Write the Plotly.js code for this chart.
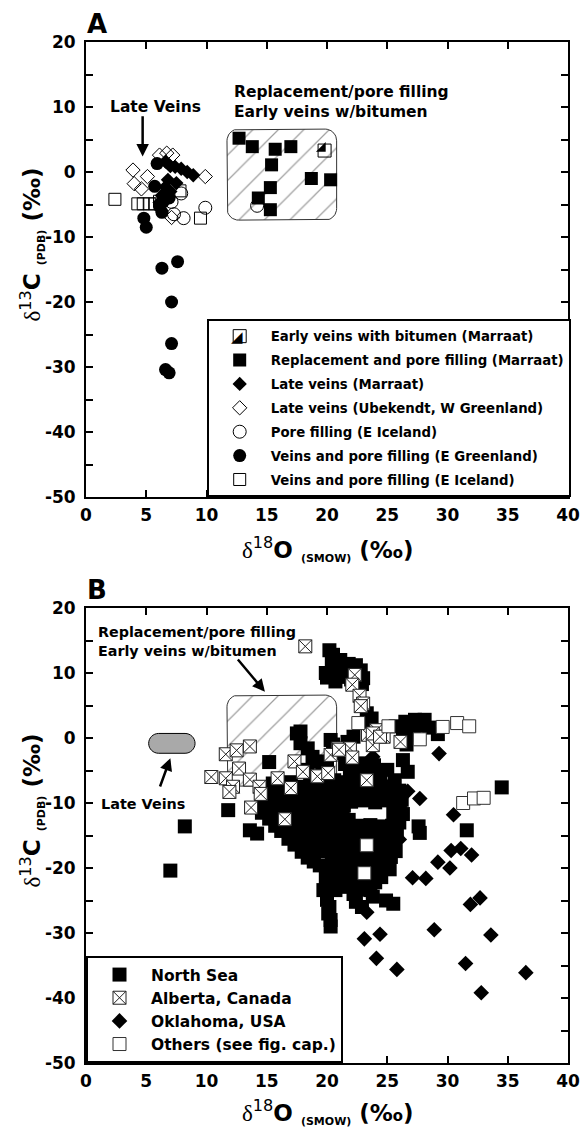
<!DOCTYPE html>
<html>
<head>
<meta charset="utf-8">
<script src="https://cdn.plot.ly/plotly-3.0.1.min.js"></script>
<style>
  html, body { margin: 0; padding: 0; background: #fff; }
  #chart { width: 581px; height: 1128px; }
</style>
</head>
<body>
<div id="chart"></div>
<script>
// ---------- Panel A: Marraat and comparison localities ----------
const earlyVeinsX = [19.8];
const earlyVeinsY = [3.3];

const replacementX = [12.7, 13.8, 15.7, 17.0, 15.4, 18.7, 20.3, 15.3, 14.3, 15.3];
const replacementY = [5.2, 3.9, 3.5, 3.9, 1.1, -1.0, -1.2, -2.4, -4.0, -5.8];

const lateMarraatX = [6.6, 7.0, 7.4, 7.9, 8.4, 8.9, 6.8, 7.5, 7.0, 6.6, 6.3, 6.1];
const lateMarraatY = [1.6, 0.9, 0.8, 0.5, 0.0, -0.5, -1.2, -1.7, -3.0, -2.3, -3.6, -4.7];

const lateUbekendtX = [3.9, 4.0, 5.1, 4.6, 6.1, 6.7, 7.2, 9.9, 7.1];
const lateUbekendtY = [0.3, -1.8, -0.7, -2.6, 2.6, 2.9, 2.6, -0.7, -7.0];

const poreIcelandX = [7.3, 8.1, 9.9, 7.9, 7.1, 14.2];
const poreIcelandY = [-6.5, -7.1, -5.5, -3.3, -4.6, -5.2];

const veinsGreenlandX = [5.9, 5.7, 4.8, 5.0, 6.3, 6.4, 6.7, 6.1, 6.9, 6.3, 7.6, 7.1, 7.1, 6.6, 6.9];
const veinsGreenlandY = [1.3, -2.2, -7.1, -8.5, -6.2, -4.6, -3.0, -5.3, -4.0, -14.8, -13.8, -20.0, -26.4, -30.4, -30.9];

const veinsIcelandX = [2.4, 4.3, 4.75, 5.25, 5.7, 6.1, 9.5, 7.8];
const veinsIcelandY = [-4.2, -4.9, -4.9, -4.9, -4.9, -4.5, -7.1, -2.9];

// ---------- Panel B: literature data ----------
const northSeaX = [
  7.0, 8.2, 11.8, 13.6, 14.2, 15.2,
  20.2, 20.5, 20.4, 21.1, 21.1, 19.9, 20.0, 20.7, 21.1, 22.4, 22.8, 23.0, 22.9, 23.3, 23.7, 23.4,
  20.8, 21.5, 22.0, 21.8,
  26.5, 27.3, 28.1, 26.3, 27.2, 28.5, 26.6, 29.2, 22.2, 21.7, 25.7, 26.9, 27.8,
  17.8, 17.5, 17.8, 18.4, 18.8, 19.3, 18.4, 20.3, 20.5, 20.9, 22.4, 23.1, 23.9, 25.0, 26.3, 26.7, 25.6, 24.8, 26.2, 26.05,
  19.6, 20.0, 21.5, 21.9, 23.0, 24.0,
  15.5, 17.0, 18.6, 19.6, 20.6, 21.5, 22.4, 24.4,
  14.8, 15.8, 16.8, 17.8, 18.8, 19.8, 20.8, 21.8, 22.8, 23.8, 24.8, 25.6,
  15.3, 16.2, 17.4, 18.3, 19.2, 20.3, 21.2, 22.2, 23.1, 24.0, 25.0, 26.0,
  14.9, 15.9, 16.9, 17.9, 18.9, 19.9, 20.9, 21.6, 25.8,
  22.0, 23.0, 24.0, 25.0,
  14.6, 15.6, 16.6, 17.6, 18.6, 19.5, 20.5, 21.4, 25.7,
  14.6, 15.5, 16.5, 17.5, 18.4, 19.4, 20.4, 21.3, 25.5, 26.3,
  15.2, 16.2, 17.2, 18.2, 19.1, 20.0, 21.0, 21.8, 25.6, 26.0,
  15.7, 16.7, 17.7, 18.7, 19.6, 20.6, 21.6, 22.6, 23.6, 24.6, 25.4,
  16.2, 17.3, 18.2, 19.2, 20.2, 21.2, 22.2, 23.2, 24.2, 25.2, 25.8,
  16.8, 17.8, 18.8, 19.8, 20.7, 21.7, 22.7, 23.8, 24.8, 25.6,
  17.3, 18.3, 19.3, 20.2, 21.1, 22.1, 24.2, 25.2,
  17.9, 18.9, 19.9, 20.9, 21.9, 22.9, 23.9, 24.9, 25.7,
  18.4, 18.9, 20.5, 21.4, 22.4, 23.4, 24.4, 25.3,
  19.4, 20.4, 21.3, 23.0, 23.9, 24.8,
  20.1, 20.9, 21.8, 22.5, 24.3, 25.2,
  19.9, 20.8, 21.7, 22.7, 23.6, 24.5,
  20.4, 21.5, 22.3, 23.1, 24.0,
  22.8, 23.6,
  19.7, 20.7, 20.0, 20.2, 20.1, 20.3, 20.3, 22.4, 22.9, 23.8, 24.9, 25.5, 22.2,
  27.6, 27.7, 31.6, 34.5
];
const northSeaY = [
  -20.4, -13.6, -11.1, -14.2, -14.7, -3.7,
  13.5, 12.8, 11.8, 12.0, 11.0, 10.0, 9.3, 8.7, 9.4, 11.2, 10.4, 9.2, 8.3, 3.8, 3.0, 2.2,
  10.5, 10.2, 9.0, 11.4,
  2.5, 2.8, 2.8, 0.7, 0.5, 1.6, -1.0, 0.6, 0.2, -0.6, 1.8, 1.6, 1.9,
  1.0, 0.7, -0.8, -1.6, -2.9, -3.6, -4.9, -0.3, -1.0, -2.3, -4.4, -3.9, -4.2, -4.9, -3.4, -5.2, -6.5, -7.5, -9.5, -11.1,
  -5.6, -4.5, -4.0, -5.3, -5.2, -5.5,
  -7.0, -6.8, -6.6, -6.8, -6.5, -6.8, -6.4, -6.2,
  -7.6, -7.5, -7.7, -7.5, -7.6, -7.7, -7.5, -7.6, -7.7, -7.5, -7.6, -7.4,
  -8.6, -8.3, -8.8, -8.4, -8.7, -8.3, -8.6, -8.4, -8.6, -8.2, -8.7, -8.1,
  -9.5, -9.6, -9.4, -9.6, -9.5, -9.4, -9.6, -9.5, -9.4,
  -9.8, -9.6, -9.9, -9.6,
  -10.6, -10.3, -10.7, -10.4, -10.6, -10.3, -10.7, -10.4, -10.6,
  -11.5, -11.6, -11.4, -11.6, -11.5, -11.4, -11.6, -11.5, -11.5, -11.7,
  -12.4, -12.7, -12.3, -12.6, -12.4, -12.7, -12.4, -12.6, -12.5, -13.0,
  -13.5, -13.6, -13.4, -13.6, -13.5, -13.4, -13.6, -13.5, -13.4, -13.6, -13.5,
  -14.3, -14.6, -14.4, -14.7, -14.3, -14.6, -14.4, -14.7, -14.3, -14.6, -14.2,
  -15.5, -15.6, -15.4, -15.6, -15.5, -15.4, -15.6, -15.5, -15.4, -15.6,
  -16.4, -16.7, -16.4, -16.6, -16.3, -16.7, -16.4, -16.7,
  -17.5, -17.6, -17.4, -17.6, -17.5, -17.4, -17.6, -17.5, -17.4,
  -18.4, -19.0, -18.6, -18.3, -18.7, -18.4, -18.7, -18.3,
  -19.6, -19.5, -19.7, -19.6, -19.5, -19.7,
  -20.6, -20.3, -20.7, -20.4, -20.6, -20.2,
  -21.5, -21.6, -21.4, -21.6, -21.5, -21.4,
  -22.4, -22.9, -22.3, -22.6, -22.2,
  -23.3, -23.4,
  -23.4, -23.4, -24.9, -26.0, -27.0, -28.0, -29.0, -25.2, -26.0, -24.4, -25.0, -25.5, -24.0,
  -13.6, -14.6, -14.2, -7.6
];

const albertaX = [18.2, 22.3, 22.1, 22.7, 23.0, 22.8, 23.4, 24.1, 24.7, 23.8, 26.1, 20.9, 21.9, 20.3, 22.1,
  10.4, 11.6, 12.5, 13.6, 11.6, 12.2, 11.9, 12.7, 13.6, 14.4, 14.5, 13.7, 15.9, 17.0, 17.3, 18.0, 19.2,
  20.1, 23.3, 16.5, 23.8, 24.4, 21.0];
const albertaY = [14.1, 9.7, 8.2, 6.5, 5.3, 4.9, 0.5, 1.2, 0.2, -1.1, -0.6, -1.6, -1.6, -2.6, -3.0,
  -6.0, -2.5, -1.9, -1.3, -6.2, -7.5, -8.3, -4.7, -6.4, -7.5, -8.6, -10.7, -6.2, -7.7, -3.6, -5.2, -5.9,
  -5.4, -6.5, -12.5, 0.7, 0.2, -1.8];

const oklahomaX = [23.8, 29.3, 26.7, 27.7, 30.5, 25.6, 26.0, 30.3, 31.1, 32.0, 29.2, 30.2, 27.1, 28.2,
  31.9, 32.7, 23.1, 24.4, 28.9, 33.6, 24.1, 25.8, 31.5, 36.5, 32.8, 23.3];
const oklahomaY = [-2.9, -2.4, -8.2, -9.3, -11.8, -13.5, -15.6, -17.3, -17.0, -18.0, -19.1, -20.0, -21.5, -21.6,
  -25.6, -24.6, -30.9, -30.2, -29.5, -30.3, -33.9, -35.6, -34.7, -36.1, -39.2, -26.8];

const othersX = [22.6, 25.1, 27.7, 29.6, 30.8, 31.8, 31.3, 32.2, 33.0, 23.3, 23.1];
const othersY = [2.3, 1.8, -0.2, 1.7, 2.3, 1.8, -10.0, -9.3, -9.2, -16.5, -20.8];

// Outlined fields: replacement/early-vein field (both panels) and late-vein field (panel B)
const fieldX = [11.7, 20.8];
const fieldY = [-7.4, 6.6];
const lateFieldX = [5.2, 9.05];
const lateFieldY = [-2.35, 0.7];

// Axis ticks
const xTicks = [0, 5, 10, 15, 20, 25, 30, 35, 40];
const xTickText = ['0', '5', '10', '15', '20', '25', '30', '35', '40'];
const yTicks = [-50, -40, -30, -20, -10, 0, 10, 20];
const yTickText = ['-50', '-40', '-30', '-20', '-10', '0', '10', '20'];
const yMinor = [-45, -35, -25, -15, -5, 5, 15];

const F = 'DejaVu Sans, Liberation Sans, Arial, sans-serif';
const SERIF = 'Liberation Serif';

// rounded rectangle outline as a closed polyline
function roundedRect(xr, yr, rx, ry) {
  const [x0, x1] = xr, [y0, y1] = yr;
  const xs = [], ys = [];
  const corners = [
    [x1 - rx, y1 - ry, 0], [x0 + rx, y1 - ry, 90],
    [x0 + rx, y0 + ry, 180], [x1 - rx, y0 + ry, 270]
  ];
  corners.forEach(([cx, cy, a0]) => {
    for (let a = a0; a <= a0 + 90; a += 10) {
      const t = a * Math.PI / 180;
      xs.push(cx + rx * Math.cos(t));
      ys.push(cy + ry * Math.sin(t));
    }
  });
  xs.push(xs[0]); ys.push(ys[0]);
  return { xs, ys };
}

// pill outline path (data coordinates)
function pillPath(xr, yr, rx) {
  const [x0, x1] = xr, [y0, y1] = yr;
  const ym = (y0 + y1) / 2, ry = (y1 - y0) / 2, k = 0.5523;
  return `M ${x0 + rx},${y1} L ${x1 - rx},${y1} ` +
    `C ${x1 - rx + k * rx},${y1} ${x1},${ym + k * ry} ${x1},${ym} ` +
    `C ${x1},${ym - k * ry} ${x1 - rx + k * rx},${y0} ${x1 - rx},${y0} ` +
    `L ${x0 + rx},${y0} ` +
    `C ${x0 + rx - k * rx},${y0} ${x0},${ym - k * ry} ${x0},${ym} ` +
    `C ${x0},${ym + k * ry} ${x0 + rx - k * rx},${y1} ${x0 + rx},${y1} Z`;
}

const field = roundedRect(fieldX, fieldY, 0.95, 1.8);

function fieldTrace(xa, ya) {
  return {
    x: field.xs, y: field.ys, xaxis: xa, yaxis: ya,
    mode: 'lines', fill: 'toself',
    fillpattern: { shape: '/', fgcolor: '#a0a0a0', bgcolor: 'rgba(255,255,255,0)', size: 18, solidity: 0.07 },
    line: { color: '#333', width: 1 },
    hoverinfo: 'skip', showlegend: false
  };
}

const mk = (symbol, size, color, lineColor, lw) =>
  ({ symbol, size, color, line: { color: lineColor, width: lw } });

// half-filled marker: black lower-right triangle inside an open square
const SQ = 13, TRI = SQ / 1.2;
const triShiftPx = 0.8 * TRI - SQ / 2;

const traces = [
  fieldTrace('x', 'y'),
  { x: veinsIcelandX, y: veinsIcelandY, name: 'Veins and pore filling (E Iceland)', legendrank: 7, legendgroup: 'g7',
    mode: 'markers', marker: mk('square-open', 12, 'black', 'black', 1), xaxis: 'x', yaxis: 'y' },
  { x: poreIcelandX, y: poreIcelandY, name: 'Pore filling (E Iceland)', legendrank: 5, legendgroup: 'g5',
    mode: 'markers', marker: mk('circle-open', 13, 'black', 'black', 1), xaxis: 'x', yaxis: 'y' },
  { x: lateUbekendtX, y: lateUbekendtY, name: 'Late veins (Ubekendt, W Greenland)', legendrank: 4, legendgroup: 'g4',
    mode: 'markers', marker: mk('diamond-open', 11, 'black', 'black', 1), xaxis: 'x', yaxis: 'y' },
  { x: veinsGreenlandX, y: veinsGreenlandY, name: 'Veins and pore filling (E Greenland)', legendrank: 6, legendgroup: 'g6',
    mode: 'markers', marker: mk('circle', 13, 'black', 'black', 0), xaxis: 'x', yaxis: 'y' },
  { x: lateMarraatX, y: lateMarraatY, name: 'Late veins (Marraat)', legendrank: 3, legendgroup: 'g3',
    mode: 'markers', marker: mk('diamond', 11, 'black', 'black', 0), xaxis: 'x', yaxis: 'y' },
  { x: replacementX, y: replacementY, name: 'Replacement and pore filling (Marraat)', legendrank: 2, legendgroup: 'g2',
    mode: 'markers', marker: mk('square', SQ, 'black', 'black', 0), xaxis: 'x', yaxis: 'y' },
  { x: earlyVeinsX, y: earlyVeinsY, name: 'Early veins with bitumen (Marraat)', legendrank: 1, legendgroup: 'g1',
    mode: 'markers', marker: mk('square-open', SQ, 'black', 'black', 1), xaxis: 'x', yaxis: 'y' },
  { x: earlyVeinsX.map(v => v - triShiftPx / 12.05), y: earlyVeinsY.map(v => v + triShiftPx / 6.5),
    mode: 'markers', marker: mk('triangle-se', TRI, 'black', 'black', 0), xaxis: 'x', yaxis: 'y',
    showlegend: false, hoverinfo: 'skip' },

  fieldTrace('x2', 'y2'),
  { x: northSeaX, y: northSeaY, name: 'North Sea', legendrank: 1, legend: 'legend2',
    mode: 'markers', marker: mk('square', 14, 'black', 'black', 0), xaxis: 'x2', yaxis: 'y2' },
  { x: oklahomaX, y: oklahomaY, name: 'Oklahoma, USA', legendrank: 3, legend: 'legend2',
    mode: 'markers', marker: mk('diamond', 12, 'black', 'black', 0), xaxis: 'x2', yaxis: 'y2' },
  { x: albertaX, y: albertaY, name: 'Alberta, Canada', legendrank: 2, legend: 'legend2',
    mode: 'markers', marker: mk('square-x', 13, 'white', '#222', 1), xaxis: 'x2', yaxis: 'y2' },
  { x: othersX, y: othersY, name: 'Others (see fig. cap.)', legendrank: 4, legend: 'legend2',
    mode: 'markers', marker: mk('square', 13, 'white', '#333', 1), xaxis: 'x2', yaxis: 'y2' }
];

const tickFont = { family: F, size: 17, weight: 'bold', color: 'black' };
function xAxis(anchor) {
  return {
    anchor, range: [0, 40], tickmode: 'array', tickvals: xTicks, ticktext: xTickText,
    showline: true, linewidth: 2, linecolor: 'black', mirror: 'ticks',
    ticks: 'inside', ticklen: 7, tickwidth: 2, tickcolor: 'black',
    showgrid: false, zeroline: false, tickfont: tickFont, ticklabelstandoff: 2, fixedrange: true
  };
}
function yAxis(anchor, domain) {
  return {
    anchor, domain, range: [-50, 20], tickmode: 'array', tickvals: yTicks, ticktext: yTickText,
    minor: { tickmode: 'array', tickvals: yMinor, ticks: 'inside', ticklen: 7, tickwidth: 2, tickcolor: 'black', showgrid: false },
    showline: true, linewidth: 2, linecolor: 'black', mirror: 'ticks',
    ticks: 'inside', ticklen: 7, tickwidth: 2, tickcolor: 'black',
    showgrid: false, zeroline: false, tickfont: tickFont, ticklabelstandoff: 5, fixedrange: true
  };
}

const xTitleText = `<span style="font-family:${SERIF};font-weight:normal">δ</span><sup><span style="font-weight:normal">18</span></sup>O <sub><span style="font-size:11px">(SMOW)</span></sub> (‰)`;
const yTitleText = `<span style="font-family:${SERIF};font-weight:normal">δ</span><sup><span style="font-weight:normal">13</span></sup>C <sub><span style="font-size:11px">(PDB)</span></sub> (‰)`;

const bold = (size) => ({ family: F, size, weight: 'bold', color: 'black' });

function panelNotes(xa, ya, letter, titleShift) {
  const xd = xa + ' domain', yd = ya + ' domain';
  return [
    { xref: xd, yref: yd, x: 0, y: 1, xanchor: 'left', yanchor: 'bottom', xshift: -1, yshift: 1,
      text: letter, showarrow: false, font: bold(26) },
    { xref: xd, yref: yd, x: 0.5, y: 0, xanchor: 'center', yanchor: 'middle', yshift: titleShift,
      text: xTitleText, showarrow: false, font: bold(23) },
    { xref: xd, yref: yd, x: 0, y: 0.555, xanchor: 'center', yanchor: 'middle', xshift: -54,
      text: yTitleText, textangle: -90, showarrow: false, font: bold(23) }
  ];
}

// legend glyph for the half-filled symbol (first entry of the upper legend)
const legendGlyph = {
  xref: 'paper', yref: 'paper', x: (236.5 - 86) / 482, y: (1063 - 337) / 1021,
  xanchor: 'center', yanchor: 'middle', text: '◢', showarrow: false,
  font: { family: 'DejaVu Sans', size: 15, color: 'black' }
};

const annotations = [
  ...panelNotes('x', 'y', 'A', -52),
  ...panelNotes('x2', 'y2', 'B', -49),
  // panel A labels
  { xref: 'x', yref: 'y', x: 5.74, y: 9.95, text: 'Late Veins', showarrow: false, font: bold(15.5) },
  { xref: 'x', yref: 'y', x: 4.7, y: 2.4, ax: 4.7, ay: 8.8, axref: 'x', ayref: 'y', text: '',
    showarrow: true, arrowhead: 2, arrowsize: 1, arrowwidth: 2.5, arrowcolor: 'black' },
  { xref: 'x', yref: 'y', x: 12.1, y: 10.77, xanchor: 'left', yanchor: 'middle', align: 'left',
    text: 'Replacement/pore filling<br>Early veins w/bitumen', showarrow: false, font: bold(15.5) },
  // panel B labels
  { xref: 'x2', yref: 'y2', x: 0.8, y: 14.85, xanchor: 'left', yanchor: 'middle', align: 'left',
    text: 'Replacement/pore filling<br>Early veins w/bitumen', showarrow: false, font: bold(14.3) },
  { xref: 'x2', yref: 'y2', x: 14.85, y: 7.1, ax: 12.5, ay: 12.3, axref: 'x2', ayref: 'y2', text: '',
    showarrow: true, arrowhead: 2, arrowsize: 1, arrowwidth: 2.5, arrowcolor: 'black' },
  { xref: 'x2', yref: 'y2', x: 4.69, y: -10.15, text: 'Late Veins', showarrow: false, font: bold(14.4) },
  { xref: 'x2', yref: 'y2', x: 7.0, y: -3.1, ax: 6.1, ay: -7.7, axref: 'x2', ayref: 'y2', text: '',
    showarrow: true, arrowhead: 2, arrowsize: 1, arrowwidth: 2.5, arrowcolor: 'black' },
  legendGlyph
];

const shapes = [
  { type: 'path', xref: 'x2', yref: 'y2', path: pillPath(lateFieldX, lateFieldY, 0.83),
    fillcolor: '#a9a9a9', line: { color: 'black', width: 1 }, layer: 'above' }
];

const plotH = 1128 - 42 - 65;
const domA = [(1063 - 497) / plotH, 1];
const domB = [0, 455 / plotH];

const layout = {
  width: 581, height: 1128,
  margin: { l: 86, r: 13, t: 42, b: 65, autoexpand: false },
  paper_bgcolor: 'white', plot_bgcolor: 'white',
  font: { family: F, color: 'black' },
  xaxis: xAxis('y'), yaxis: yAxis('x', domA),
  xaxis2: xAxis('y2'), yaxis2: yAxis('x2', domB),
  showlegend: true,
  legend: {
    x: 0.2504, y: domA[0], xanchor: 'left', yanchor: 'bottom',
    bordercolor: 'black', borderwidth: 2, bgcolor: 'white',
    font: bold(13.3), traceorder: 'grouped', tracegroupgap: 3.6, itemwidth: 52
  },
  legend2: {
    x: 0, y: 0, xanchor: 'left', yanchor: 'bottom',
    bordercolor: 'black', borderwidth: 2, bgcolor: 'white',
    font: bold(15.5), itemwidth: 53
  },
  annotations, shapes
};

Plotly.newPlot('chart', traces, layout, { displayModeBar: false, staticPlot: true });
</script>
</body>
</html>
